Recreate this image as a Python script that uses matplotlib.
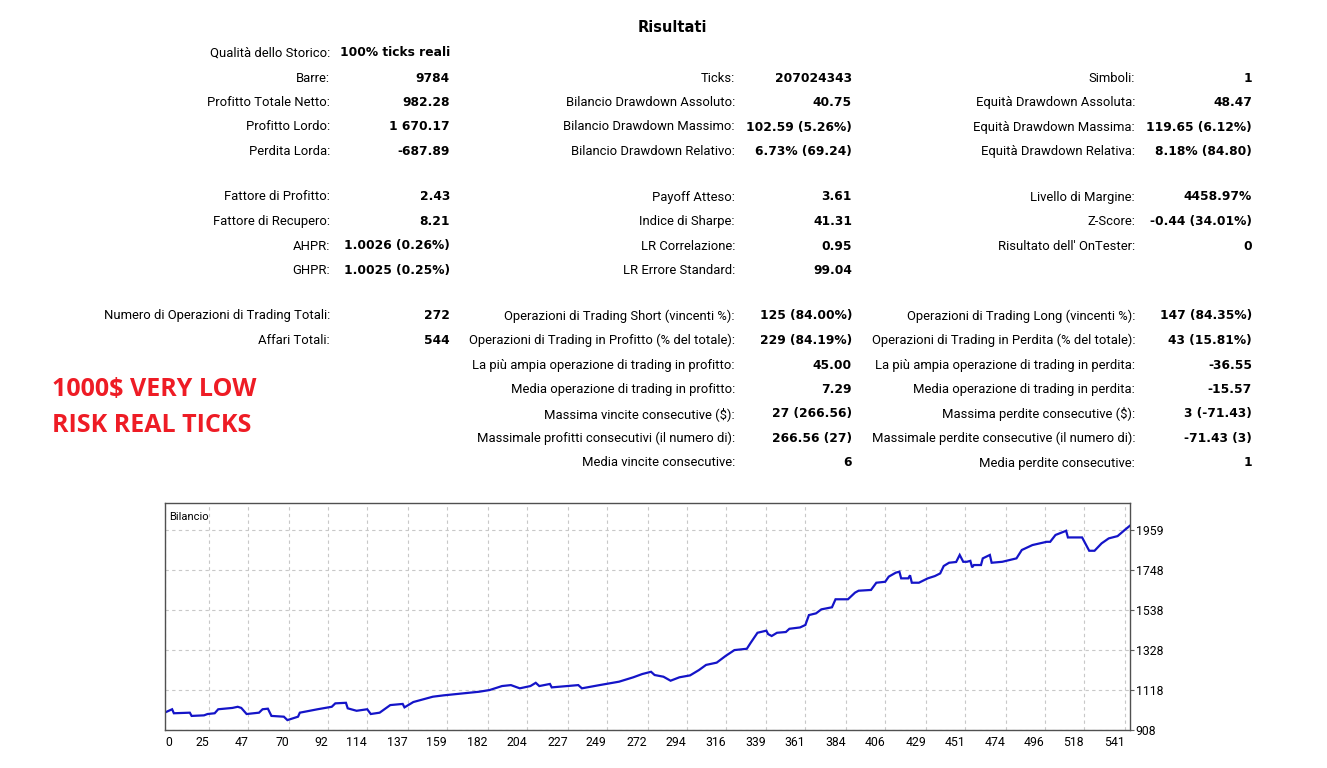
import matplotlib
matplotlib.use("Agg")
import matplotlib.pyplot as plt

W, H = 1327, 768

# balance curve (deal number, balance)
deal_idx = [0, 4, 5, 14, 15, 22, 24, 28, 30, 38, 41, 43, 46, 53, 55, 58, 60, 67, 69, 75,
            76, 86, 94, 96, 102, 103, 108, 114, 116, 121, 127, 134, 135, 140, 151, 157, 177, 183,
            190, 195, 200, 206, 209, 211, 217, 218, 233, 235, 245, 256, 264, 269, 274, 276,
            281, 285, 290, 296, 301, 305, 311, 316, 321, 328, 330, 334, 339, 340, 342, 345,
            350, 352, 358, 361, 363, 367, 370, 376, 378, 385, 389, 391, 398, 401, 406, 408,
            412, 414, 415, 419, 420, 421, 425, 430, 434, 437, 439, 442, 446, 448, 450, 452,
            454, 455, 456, 460, 461, 465, 466, 472, 480, 483, 489, 497, 499, 502, 508, 509,
            517, 519, 521, 524, 528, 532, 537, 541, 544]
balance = [1000, 1017, 996, 999, 982, 985, 992, 996, 1017, 1024, 1030, 1024, 992, 999, 1017, 1020,
           982, 978, 960, 978, 999, 1017, 1030, 1048, 1051, 1022, 1009, 1017, 992, 999, 1039,
           1045, 1027, 1055, 1083, 1090, 1109, 1118, 1139, 1144, 1127, 1139, 1156, 1139, 1150,
           1132, 1144, 1127, 1144, 1162, 1185, 1202, 1214, 1197, 1188, 1167, 1185, 1195, 1223,
           1250, 1262, 1297, 1328, 1335, 1364, 1419, 1430, 1412, 1402, 1419, 1423, 1440, 1447,
           1460, 1512, 1521, 1542, 1553, 1595, 1595, 1630, 1640, 1644, 1682, 1687, 1714, 1735,
           1740, 1705, 1705, 1721, 1682, 1682, 1705, 1717, 1731, 1770, 1787, 1791, 1828, 1792,
           1792, 1797, 1763, 1775, 1775, 1810, 1828, 1787, 1792, 1810, 1854, 1880, 1897, 1897,
           1933, 1955, 1920, 1920, 1885, 1850, 1850, 1889, 1915, 1927, 1959, 1982]

x_ticks = [0, 25, 47, 70, 92, 114, 137, 159, 182, 204, 227, 249, 272, 294, 316, 339, 361,
           384, 406, 429, 451, 474, 496, 518, 541]
y_ticks = [908, 1118, 1328, 1538, 1748, 1959]

quality_label = "Qualità dello Storico:"
quality_value = "100% ticks reali"

# three blocks of rows, three columns each: (label, value)
block1 = [
    [("Barre:", "9784"), ("Ticks:", "207024343"), ("Simboli:", "1")],
    [("Profitto Totale Netto:", "982.28"), ("Bilancio Drawdown Assoluto:", "40.75"),
     ("Equità Drawdown Assoluta:", "48.47")],
    [("Profitto Lordo:", "1 670.17"), ("Bilancio Drawdown Massimo:", "102.59 (5.26%)"),
     ("Equità Drawdown Massima:", "119.65 (6.12%)")],
    [("Perdita Lorda:", "-687.89"), ("Bilancio Drawdown Relativo:", "6.73% (69.24)"),
     ("Equità Drawdown Relativa:", "8.18% (84.80)")],
]
block2 = [
    [("Fattore di Profitto:", "2.43"), ("Payoff Atteso:", "3.61"), ("Livello di Margine:", "4458.97%")],
    [("Fattore di Recupero:", "8.21"), ("Indice di Sharpe:", "41.31"), ("Z-Score:", "-0.44 (34.01%)")],
    [("AHPR:", "1.0026 (0.26%)"), ("LR Correlazione:", "0.95"), ("Risultato dell' OnTester:", "0")],
    [("GHPR:", "1.0025 (0.25%)"), ("LR Errore Standard:", "99.04"), None],
]
block3 = [
    [("Numero di Operazioni di Trading Totali:", "272"),
     ("Operazioni di Trading Short (vincenti %):", "125 (84.00%)"),
     ("Operazioni di Trading Long (vincenti %):", "147 (84.35%)")],
    [("Affari Totali:", "544"),
     ("Operazioni di Trading in Profitto (% del totale):", "229 (84.19%)"),
     ("Operazioni di Trading in Perdita (% del totale):", "43 (15.81%)")],
    [None, ("La più ampia operazione di trading in profitto:", "45.00"),
     ("La più ampia operazione di trading in perdita:", "-36.55")],
    [None, ("Media operazione di trading in profitto:", "7.29"),
     ("Media operazione di trading in perdita:", "-15.57")],
    [None, ("Massima vincite consecutive ($):", "27 (266.56)"),
     ("Massima perdite consecutive ($):", "3 (-71.43)")],
    [None, ("Massimale profitti consecutivi (il numero di):", "266.56 (27)"),
     ("Massimale perdite consecutive (il numero di):", "-71.43 (3)")],
    [None, ("Media vincite consecutive:", "6"), ("Media perdite consecutive:", "1")],
]

LABEL_FONT = "Roboto"
VALUE_FONT = "DejaVu Sans"


def put(x, y, s, ha="right", bold=False):
    if bold:
        fig.text(x / W, 1 - y / H, s, ha=ha, va="center", family=VALUE_FONT,
                 fontsize=8.8, fontweight="bold", color="black")
    else:
        fig.text(x / W, 1 - y / H, s, ha=ha, va="center", family=LABEL_FONT,
                 fontsize=9.4, color="black")


fig = plt.figure(figsize=(W / 100, H / 100), dpi=100)
fig.patch.set_facecolor("white")

fig.text(672 / W, 1 - 28 / H, "Risultati", ha="center", va="center", family=VALUE_FONT,
         fontsize=10.5, fontweight="bold")

label_x = [330, 735, 1135]
value_x = [450, 852, 1252]
row_h = 24.5

put(label_x[0], 53, quality_label)
put(340, 53, quality_value, ha="left", bold=True)

for block, y0 in [(block1, 78), (block2, 197), (block3, 316)]:
    for r, row in enumerate(block):
        y = y0 + r * row_h
        for c, cell in enumerate(row):
            if cell is None:
                continue
            put(label_x[c], y, cell[0])
            put(value_x[c], y, cell[1], bold=True)

red = "#ee1c25"
fig.text(52 / W, 1 - 389 / H, "1000$ VERY LOW", ha="left", va="center",
         family="Open Sans", fontsize=18, fontweight="bold", color=red)
fig.text(52 / W, 1 - 425 / H, "RISK REAL TICKS", ha="left", va="center",
         family="Open Sans", fontsize=18, fontweight="bold", color=red)

# balance chart
ax = fig.add_axes([165 / W, 1 - 730 / H, (1130 - 165) / W, (730 - 503) / H])
ax.plot(deal_idx, balance, color="#1414c8", lw=1.6, solid_joinstyle="miter")
ax.set_xlim(0, 544)
ax.set_ylim(908, 2101)
ax.set_xticks(x_ticks)
ax.set_xticklabels([str(v) for v in x_ticks], family=LABEL_FONT, fontsize=8.8)
for i, t in enumerate(ax.get_xticklabels()):
    t.set_ha("left" if i == 0 else "right")
ax.set_yticks(y_ticks)
ax.set_yticklabels([str(v) for v in y_ticks], family=LABEL_FONT, fontsize=8.8)
ax.yaxis.tick_right()
ax.tick_params(axis="x", length=0, pad=4)
ax.tick_params(axis="y", length=3, pad=1, color="#606060")
ax.grid(True, color="#c8c8c8", ls=(0, (3, 3)), lw=0.8)
for sp in ax.spines.values():
    sp.set_color("#505050")
    sp.set_linewidth(1.0)
ax.text(0.004, 0.96, "Bilancio", transform=ax.transAxes, ha="left", va="top",
        family=LABEL_FONT, fontsize=8)

fig.savefig("out.png", dpi=100, facecolor="white")
